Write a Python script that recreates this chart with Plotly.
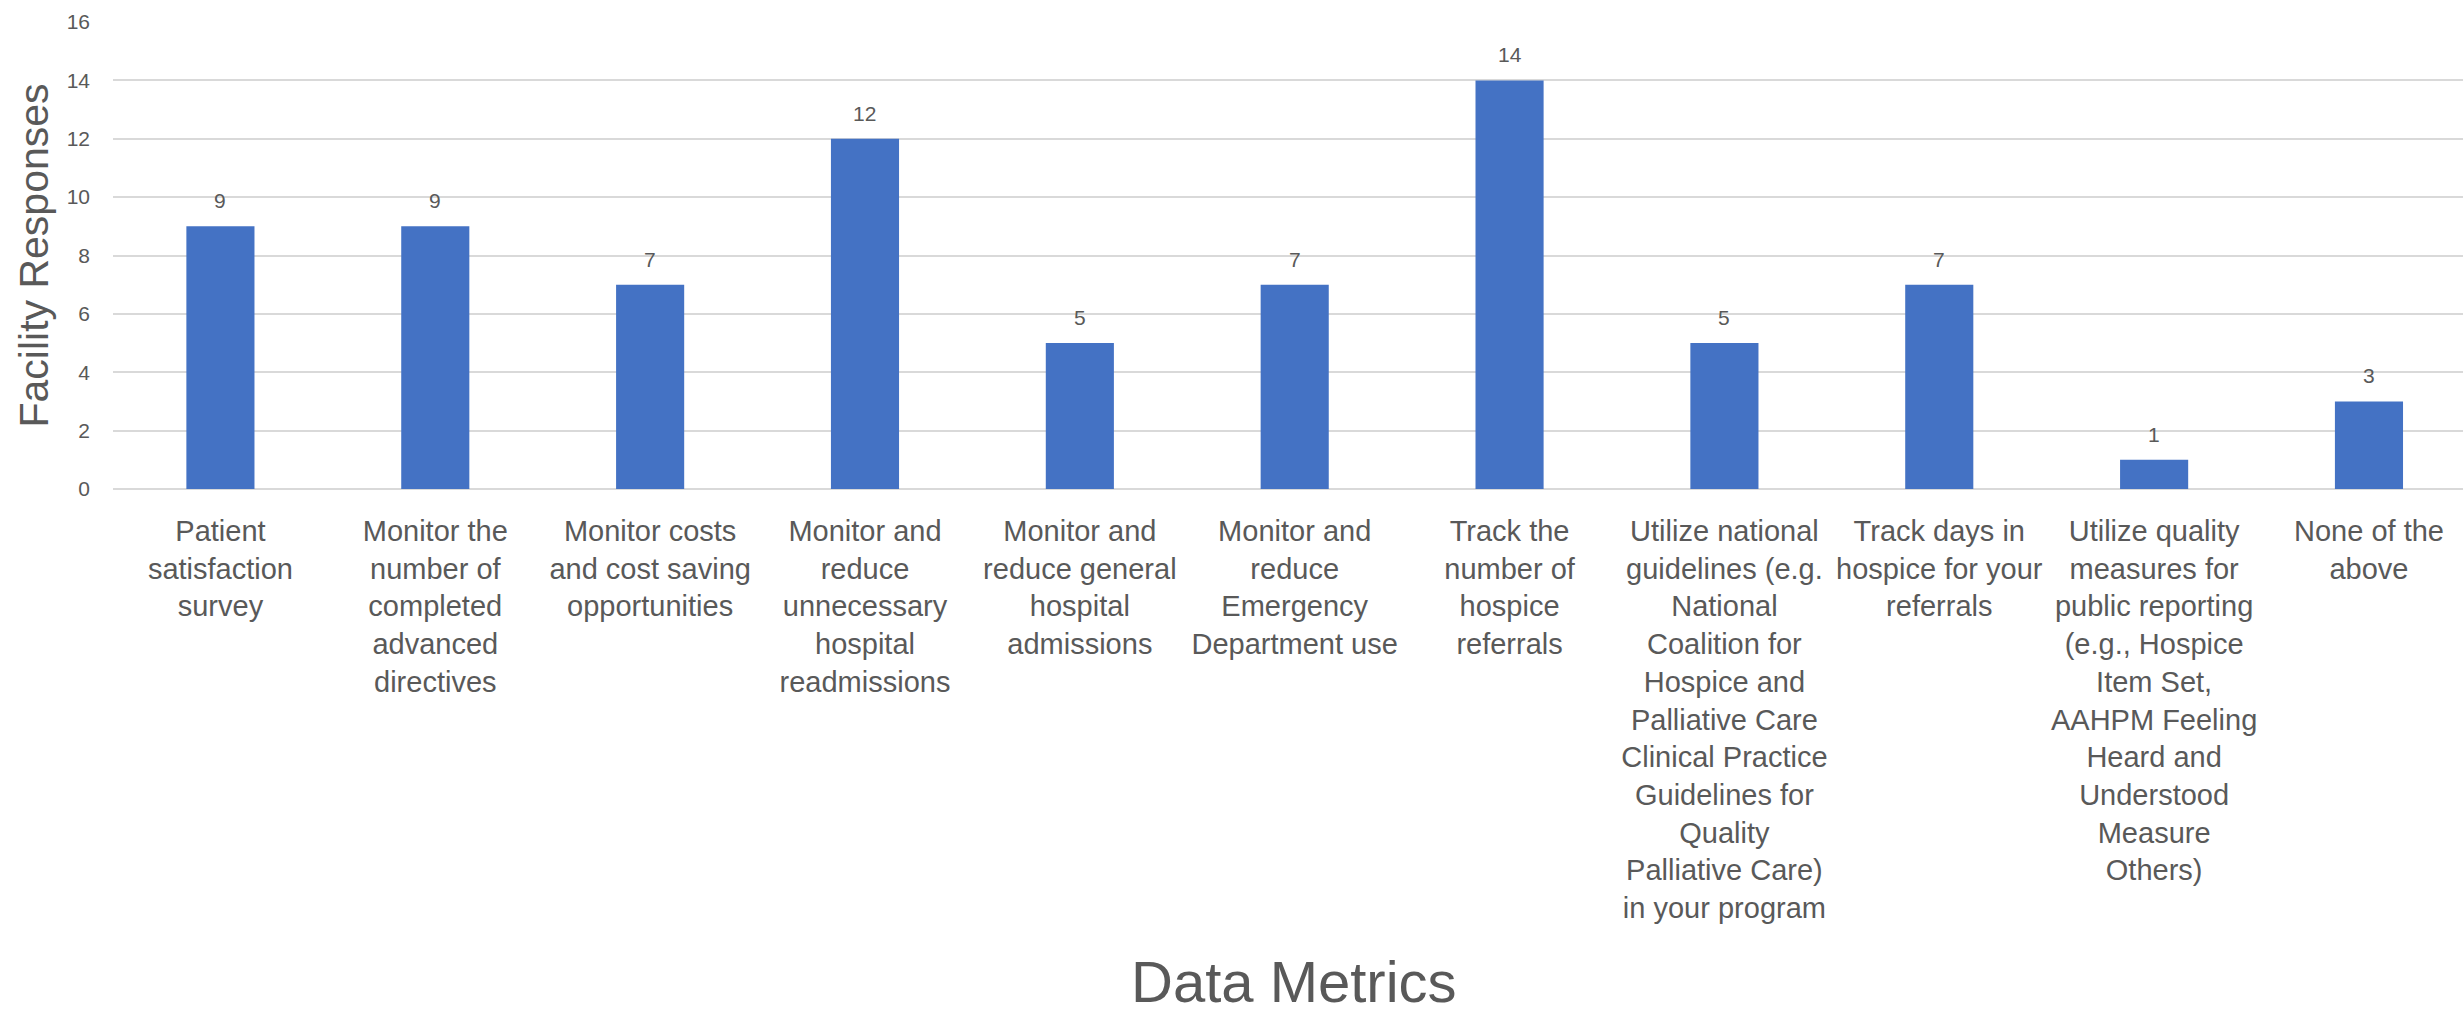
import plotly.graph_objects as go

# Survey results: how facilities use data metrics
categories = [
    "Patient satisfaction survey",
    "Monitor the number of completed advanced directives",
    "Monitor costs and cost saving opportunities",
    "Monitor and reduce unnecessary hospital readmissions",
    "Monitor and reduce general hospital admissions",
    "Monitor and reduce Emergency Department use",
    "Track the number of hospice referrals",
    "Utilize national guidelines (e.g. National Coalition for Hospice and Palliative Care Clinical Practice Guidelines for Quality Palliative Care) in your program",
    "Track days in hospice for your referrals",
    "Utilize quality measures for public reporting (e.g., Hospice Item Set, AAHPM Feeling Heard and Understood Measure Others)",
    "None of the above",
]
responses = [9, 9, 7, 12, 5, 7, 14, 5, 7, 1, 3]

# Wrapped tick labels, one entry per category
tick_labels = [
    "Patient<br>satisfaction<br>survey",
    "Monitor the<br>number of<br>completed<br>advanced<br>directives",
    "Monitor costs<br>and cost saving<br>opportunities",
    "Monitor and<br>reduce<br>unnecessary<br>hospital<br>readmissions",
    "Monitor and<br>reduce general<br>hospital<br>admissions",
    "Monitor and<br>reduce<br>Emergency<br>Department use",
    "Track the<br>number of<br>hospice<br>referrals",
    "Utilize national<br>guidelines (e.g.<br>National<br>Coalition for<br>Hospice and<br>Palliative Care<br>Clinical Practice<br>Guidelines for<br>Quality<br>Palliative Care)<br>in your program",
    "Track days in<br>hospice for your<br>referrals",
    "Utilize quality<br>measures for<br>public reporting<br>(e.g., Hospice<br>Item Set,<br>AAHPM Feeling<br>Heard and<br>Understood<br>Measure<br>Others)",
    "None of the<br>above",
]
y_ticks = [0, 2, 4, 6, 8, 10, 12, 14, 16]

FONT = "Liberation Sans, Arial, sans-serif"
TEXT = "#595959"
GRID = "#d9d9d9"
BAR = "#4472C4"

x_pos = list(range(len(categories)))

fig = go.Figure()
fig.add_trace(go.Bar(
    x=x_pos,
    y=responses,
    marker=dict(color=BAR, line=dict(width=0)),
    hovertext=categories,
    showlegend=False,
))

# value labels above each bar
for xi, v in zip(x_pos, responses):
    fig.add_annotation(
        x=xi, y=v, text=str(v), showarrow=False,
        yanchor="bottom", yshift=12,
        font=dict(family=FONT, size=21, color=TEXT),
    )

L, R, T, B = 113, 0, 22, 524
W, H = 2463, 1013
plot_w = W - L - R
plot_h = H - T - B

# axis titles
fig.add_annotation(
    xref="paper", yref="paper",
    x=(33 - L) / plot_w, y=0.5,
    text="Facility Responses", textangle=-90, showarrow=False,
    xanchor="center", yanchor="middle",
    font=dict(family=FONT, size=41, color=TEXT),
)
fig.add_annotation(
    xref="paper", yref="paper",
    x=(1294 - L) / plot_w, y=-(1016 - (H - B)) / plot_h,
    text="Data Metrics", showarrow=False,
    xanchor="center", yanchor="bottom",
    font=dict(family=FONT, size=58, color=TEXT),
)

fig.update_layout(
    width=W, height=H,
    margin=dict(l=L, r=R, t=T, b=B, pad=0),
    plot_bgcolor="white",
    paper_bgcolor="white",
    bargap=0.683,
    font=dict(family=FONT, color=TEXT),
)
fig.update_xaxes(
    tickmode="array", tickvals=x_pos, ticktext=tick_labels,
    tickangle=0,
    range=[-0.5, 10.4376],
    tickfont=dict(family=FONT, size=29, color=TEXT),
    showgrid=False, zeroline=False,
    showline=False, ticks="", ticklabelstandoff=22,
    automargin=False,
)
fig.update_yaxes(
    range=[0, 16], tickmode="array", tickvals=y_ticks,
    tickfont=dict(family=FONT, size=21, color=TEXT),
    showgrid=True, gridcolor=GRID, gridwidth=1.6,
    zeroline=True, zerolinecolor=GRID, zerolinewidth=1.6,
    showline=False, ticks="", ticklabelstandoff=22,
    automargin=False,
)

fig.write_html("out.html")
